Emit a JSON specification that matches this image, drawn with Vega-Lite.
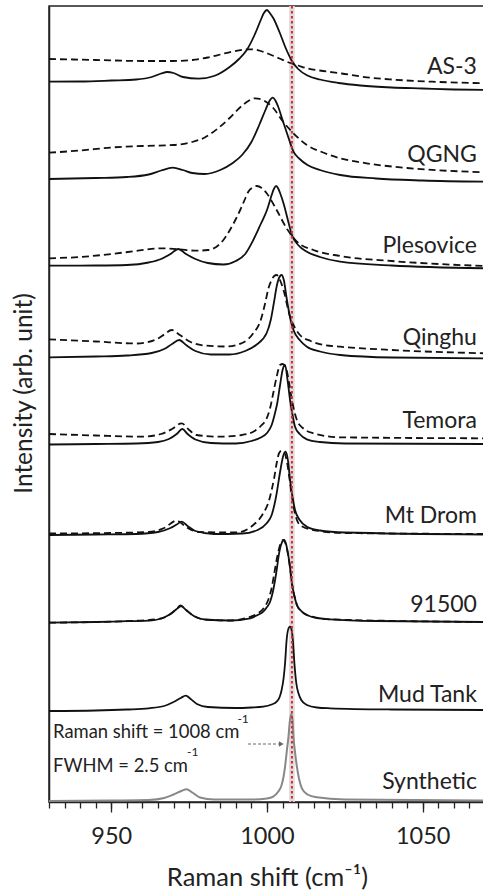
{
  "$schema": "https://vega.github.io/schema/vega-lite/v6.json",
  "width": 436,
  "height": 796,
  "autosize": {"type": "none"},
  "padding": {"left": 49, "top": 6, "right": 0, "bottom": 90},
  "config": {
    "font": "Lato",
    "view": {"stroke": "#222", "strokeWidth": 1.5},
    "axis": {"grid": false, "domainColor": "#222", "tickColor": "#222", "labelColor": "#222", "titleColor": "#222", "domainWidth": 1.5, "tickWidth": 1.3},
    "axisY": {"title": "Intensity (arb. unit)", "orient": "left", "ticks": false, "labels": false, "titleFontSize": 24.5, "titleFontWeight": "normal", "titleAngle": -90, "titleAlign": "center", "titleBaseline": "alphabetic", "titleX": -18, "titleY": 387}
  },
  "datasets": {
    "spectra": [
      {"s":"AS-3","k":"solid","x":930,"y":720.3},{"s":"AS-3","k":"solid","x":940,"y":720.5},{"s":"AS-3","k":"solid","x":950,"y":721.5},{"s":"AS-3","k":"solid","x":958,"y":722.5},{"s":"AS-3","k":"solid","x":963,"y":725},{"s":"AS-3","k":"solid","x":966,"y":728.5},{"s":"AS-3","k":"solid","x":968,"y":730},{"s":"AS-3","k":"solid","x":970,"y":729},{"s":"AS-3","k":"solid","x":973,"y":725},{"s":"AS-3","k":"solid","x":978,"y":723.3},{"s":"AS-3","k":"solid","x":983,"y":726},{"s":"AS-3","k":"solid","x":988,"y":735},{"s":"AS-3","k":"solid","x":991,"y":743},{"s":"AS-3","k":"solid","x":993.5,"y":752},{"s":"AS-3","k":"solid","x":996,"y":767},{"s":"AS-3","k":"solid","x":998,"y":782},{"s":"AS-3","k":"solid","x":999,"y":789},{"s":"AS-3","k":"solid","x":1000,"y":792},{"s":"AS-3","k":"solid","x":1001,"y":788.5},{"s":"AS-3","k":"solid","x":1002,"y":784},{"s":"AS-3","k":"solid","x":1004,"y":770},{"s":"AS-3","k":"solid","x":1006,"y":754},{"s":"AS-3","k":"solid","x":1008,"y":741},{"s":"AS-3","k":"solid","x":1010,"y":733},{"s":"AS-3","k":"solid","x":1013,"y":726.5},{"s":"AS-3","k":"solid","x":1017,"y":722.5},{"s":"AS-3","k":"solid","x":1023,"y":719},{"s":"AS-3","k":"solid","x":1030,"y":716.5},{"s":"AS-3","k":"solid","x":1040,"y":714.5},{"s":"AS-3","k":"solid","x":1050,"y":713.5},{"s":"AS-3","k":"solid","x":1060,"y":712.5},{"s":"AS-3","k":"solid","x":1070,"y":712},
      {"s":"AS-3","k":"dashed","x":930,"y":743},{"s":"AS-3","k":"dashed","x":945,"y":742},{"s":"AS-3","k":"dashed","x":960,"y":741},{"s":"AS-3","k":"dashed","x":970,"y":741},{"s":"AS-3","k":"dashed","x":976,"y":742},{"s":"AS-3","k":"dashed","x":981,"y":744.5},{"s":"AS-3","k":"dashed","x":985,"y":747.5},{"s":"AS-3","k":"dashed","x":989,"y":750.5},{"s":"AS-3","k":"dashed","x":992,"y":752.2},{"s":"AS-3","k":"dashed","x":995,"y":752.7},{"s":"AS-3","k":"dashed","x":998,"y":751},{"s":"AS-3","k":"dashed","x":1001,"y":747.5},{"s":"AS-3","k":"dashed","x":1004,"y":743.5},{"s":"AS-3","k":"dashed","x":1007,"y":739.5},{"s":"AS-3","k":"dashed","x":1010,"y":736.5},{"s":"AS-3","k":"dashed","x":1013,"y":733.5},{"s":"AS-3","k":"dashed","x":1018,"y":731},{"s":"AS-3","k":"dashed","x":1024,"y":728.5},{"s":"AS-3","k":"dashed","x":1032,"y":724.7},{"s":"AS-3","k":"dashed","x":1040,"y":722.5},{"s":"AS-3","k":"dashed","x":1053,"y":720.3},{"s":"AS-3","k":"dashed","x":1070,"y":718.7},
      {"s":"QGNG","k":"solid","x":930,"y":623},{"s":"QGNG","k":"solid","x":945,"y":624},{"s":"QGNG","k":"solid","x":955,"y":625},{"s":"QGNG","k":"solid","x":962,"y":627.5},{"s":"QGNG","k":"solid","x":966,"y":631.5},{"s":"QGNG","k":"solid","x":969.7,"y":634.3},{"s":"QGNG","k":"solid","x":973,"y":632},{"s":"QGNG","k":"solid","x":976,"y":629},{"s":"QGNG","k":"solid","x":980,"y":628},{"s":"QGNG","k":"solid","x":985,"y":632},{"s":"QGNG","k":"solid","x":989,"y":639},{"s":"QGNG","k":"solid","x":992,"y":647},{"s":"QGNG","k":"solid","x":995,"y":660},{"s":"QGNG","k":"solid","x":997.5,"y":677},{"s":"QGNG","k":"solid","x":999.5,"y":692},{"s":"QGNG","k":"solid","x":1000.8,"y":701},{"s":"QGNG","k":"solid","x":1001.8,"y":704.3},{"s":"QGNG","k":"solid","x":1002.7,"y":701.5},{"s":"QGNG","k":"solid","x":1003.5,"y":696},{"s":"QGNG","k":"solid","x":1005,"y":682},{"s":"QGNG","k":"solid","x":1006.5,"y":668},{"s":"QGNG","k":"solid","x":1008.5,"y":650.3},{"s":"QGNG","k":"solid","x":1010.5,"y":643},{"s":"QGNG","k":"solid","x":1013,"y":637},{"s":"QGNG","k":"solid","x":1017,"y":632},{"s":"QGNG","k":"solid","x":1023.5,"y":627},{"s":"QGNG","k":"solid","x":1035,"y":623.5},{"s":"QGNG","k":"solid","x":1050,"y":621.5},{"s":"QGNG","k":"solid","x":1070,"y":620.3},
      {"s":"QGNG","k":"dashed","x":930,"y":649.3},{"s":"QGNG","k":"dashed","x":940,"y":651.5},{"s":"QGNG","k":"dashed","x":950,"y":654.5},{"s":"QGNG","k":"dashed","x":960,"y":656},{"s":"QGNG","k":"dashed","x":970,"y":657},{"s":"QGNG","k":"dashed","x":976,"y":660},{"s":"QGNG","k":"dashed","x":980,"y":664.5},{"s":"QGNG","k":"dashed","x":984,"y":673},{"s":"QGNG","k":"dashed","x":988,"y":684},{"s":"QGNG","k":"dashed","x":991.5,"y":695},{"s":"QGNG","k":"dashed","x":994,"y":701},{"s":"QGNG","k":"dashed","x":996.2,"y":703.7},{"s":"QGNG","k":"dashed","x":999,"y":701.5},{"s":"QGNG","k":"dashed","x":1002,"y":694},{"s":"QGNG","k":"dashed","x":1005,"y":681},{"s":"QGNG","k":"dashed","x":1008.5,"y":668.7},{"s":"QGNG","k":"dashed","x":1012.8,"y":657},{"s":"QGNG","k":"dashed","x":1018,"y":649.5},{"s":"QGNG","k":"dashed","x":1023.5,"y":643.7},{"s":"QGNG","k":"dashed","x":1032,"y":638.7},{"s":"QGNG","k":"dashed","x":1045,"y":634},{"s":"QGNG","k":"dashed","x":1070,"y":629.7},
      {"s":"Plesovice","k":"solid","x":930,"y":536.3},{"s":"Plesovice","k":"solid","x":945,"y":536.5},{"s":"Plesovice","k":"solid","x":955,"y":537},{"s":"Plesovice","k":"solid","x":962,"y":539.5},{"s":"Plesovice","k":"solid","x":966,"y":543},{"s":"Plesovice","k":"solid","x":969,"y":548},{"s":"Plesovice","k":"solid","x":971.5,"y":553},{"s":"Plesovice","k":"solid","x":974,"y":548},{"s":"Plesovice","k":"solid","x":977,"y":543},{"s":"Plesovice","k":"solid","x":981,"y":539},{"s":"Plesovice","k":"solid","x":986,"y":537.5},{"s":"Plesovice","k":"solid","x":990,"y":541},{"s":"Plesovice","k":"solid","x":993,"y":548},{"s":"Plesovice","k":"solid","x":995.6,"y":562},{"s":"Plesovice","k":"solid","x":998,"y":578},{"s":"Plesovice","k":"solid","x":1000,"y":592},{"s":"Plesovice","k":"solid","x":1001.5,"y":607},{"s":"Plesovice","k":"solid","x":1002.2,"y":613},{"s":"Plesovice","k":"solid","x":1002.9,"y":616},{"s":"Plesovice","k":"solid","x":1003.6,"y":613.5},{"s":"Plesovice","k":"solid","x":1004.2,"y":609},{"s":"Plesovice","k":"solid","x":1005.3,"y":598.7},{"s":"Plesovice","k":"solid","x":1006.7,"y":582},{"s":"Plesovice","k":"solid","x":1008,"y":567},{"s":"Plesovice","k":"solid","x":1010,"y":557},{"s":"Plesovice","k":"solid","x":1012.8,"y":550.3},{"s":"Plesovice","k":"solid","x":1017,"y":545},{"s":"Plesovice","k":"solid","x":1023.5,"y":540.3},{"s":"Plesovice","k":"solid","x":1040,"y":536.5},{"s":"Plesovice","k":"solid","x":1070,"y":533.7},
      {"s":"Plesovice","k":"dashed","x":930,"y":543.7},{"s":"Plesovice","k":"dashed","x":940,"y":545},{"s":"Plesovice","k":"dashed","x":950,"y":548},{"s":"Plesovice","k":"dashed","x":958,"y":551},{"s":"Plesovice","k":"dashed","x":965.7,"y":553.7},{"s":"Plesovice","k":"dashed","x":971.5,"y":552.7},{"s":"Plesovice","k":"dashed","x":977.4,"y":551.3},{"s":"Plesovice","k":"dashed","x":981,"y":552},{"s":"Plesovice","k":"dashed","x":983.8,"y":555.3},{"s":"Plesovice","k":"dashed","x":986,"y":562},{"s":"Plesovice","k":"dashed","x":988.1,"y":572},{"s":"Plesovice","k":"dashed","x":990,"y":583},{"s":"Plesovice","k":"dashed","x":991.4,"y":592},{"s":"Plesovice","k":"dashed","x":992.8,"y":602},{"s":"Plesovice","k":"dashed","x":994,"y":610.3},{"s":"Plesovice","k":"dashed","x":995.4,"y":614.5},{"s":"Plesovice","k":"dashed","x":996.7,"y":616},{"s":"Plesovice","k":"dashed","x":998.3,"y":614},{"s":"Plesovice","k":"dashed","x":999.9,"y":608.7},{"s":"Plesovice","k":"dashed","x":1003.1,"y":592},{"s":"Plesovice","k":"dashed","x":1006.3,"y":573.7},{"s":"Plesovice","k":"dashed","x":1009.6,"y":560.3},{"s":"Plesovice","k":"dashed","x":1014.9,"y":552},{"s":"Plesovice","k":"dashed","x":1023.5,"y":546},{"s":"Plesovice","k":"dashed","x":1040,"y":541},{"s":"Plesovice","k":"dashed","x":1055,"y":538},{"s":"Plesovice","k":"dashed","x":1070,"y":536},
      {"s":"Qinghu","k":"solid","x":930,"y":444.7},{"s":"Qinghu","k":"solid","x":945,"y":445.5},{"s":"Qinghu","k":"solid","x":955,"y":446.5},{"s":"Qinghu","k":"solid","x":963,"y":449},{"s":"Qinghu","k":"solid","x":967,"y":453},{"s":"Qinghu","k":"solid","x":969.5,"y":458},{"s":"Qinghu","k":"solid","x":971.8,"y":462},{"s":"Qinghu","k":"solid","x":974,"y":457},{"s":"Qinghu","k":"solid","x":977,"y":451},{"s":"Qinghu","k":"solid","x":982,"y":447.5},{"s":"Qinghu","k":"solid","x":988,"y":447.5},{"s":"Qinghu","k":"solid","x":993,"y":451},{"s":"Qinghu","k":"solid","x":996.5,"y":457},{"s":"Qinghu","k":"solid","x":999.9,"y":469},{"s":"Qinghu","k":"solid","x":1001.2,"y":482},{"s":"Qinghu","k":"solid","x":1002.2,"y":499},{"s":"Qinghu","k":"solid","x":1003.2,"y":517},{"s":"Qinghu","k":"solid","x":1004,"y":525},{"s":"Qinghu","k":"solid","x":1004.7,"y":527},{"s":"Qinghu","k":"solid","x":1005.4,"y":522},{"s":"Qinghu","k":"solid","x":1006.3,"y":504},{"s":"Qinghu","k":"solid","x":1007.3,"y":486},{"s":"Qinghu","k":"solid","x":1008.5,"y":472},{"s":"Qinghu","k":"solid","x":1010.5,"y":462},{"s":"Qinghu","k":"solid","x":1012.8,"y":455.3},{"s":"Qinghu","k":"solid","x":1017,"y":450.5},{"s":"Qinghu","k":"solid","x":1023.5,"y":447},{"s":"Qinghu","k":"solid","x":1040,"y":444.5},{"s":"Qinghu","k":"solid","x":1070,"y":443.7},
      {"s":"Qinghu","k":"dashed","x":930,"y":462.7},{"s":"Qinghu","k":"dashed","x":945,"y":460.5},{"s":"Qinghu","k":"dashed","x":958,"y":458.5},{"s":"Qinghu","k":"dashed","x":964,"y":462},{"s":"Qinghu","k":"dashed","x":967,"y":467.5},{"s":"Qinghu","k":"dashed","x":969.4,"y":472},{"s":"Qinghu","k":"dashed","x":972,"y":467},{"s":"Qinghu","k":"dashed","x":975.3,"y":460.3},{"s":"Qinghu","k":"dashed","x":980,"y":456.5},{"s":"Qinghu","k":"dashed","x":987,"y":455.5},{"s":"Qinghu","k":"dashed","x":992,"y":459},{"s":"Qinghu","k":"dashed","x":995.6,"y":468.7},{"s":"Qinghu","k":"dashed","x":998,"y":482},{"s":"Qinghu","k":"dashed","x":999.4,"y":498.7},{"s":"Qinghu","k":"dashed","x":1000.5,"y":514},{"s":"Qinghu","k":"dashed","x":1001.5,"y":522},{"s":"Qinghu","k":"dashed","x":1002.3,"y":526},{"s":"Qinghu","k":"dashed","x":1003.1,"y":527},{"s":"Qinghu","k":"dashed","x":1004.3,"y":521},{"s":"Qinghu","k":"dashed","x":1005.3,"y":512},{"s":"Qinghu","k":"dashed","x":1007.4,"y":485.3},{"s":"Qinghu","k":"dashed","x":1009,"y":474},{"s":"Qinghu","k":"dashed","x":1010.6,"y":467},{"s":"Qinghu","k":"dashed","x":1014,"y":461},{"s":"Qinghu","k":"dashed","x":1018.1,"y":457},{"s":"Qinghu","k":"dashed","x":1023.5,"y":455.3},{"s":"Qinghu","k":"dashed","x":1040,"y":452},{"s":"Qinghu","k":"dashed","x":1070,"y":448.7},
      {"s":"Temora","k":"solid","x":930,"y":357.5},{"s":"Temora","k":"solid","x":945,"y":358},{"s":"Temora","k":"solid","x":958,"y":358.5},{"s":"Temora","k":"solid","x":965,"y":360},{"s":"Temora","k":"solid","x":968.5,"y":363},{"s":"Temora","k":"solid","x":971,"y":368},{"s":"Temora","k":"solid","x":972.8,"y":373},{"s":"Temora","k":"solid","x":974.5,"y":368},{"s":"Temora","k":"solid","x":977,"y":362.5},{"s":"Temora","k":"solid","x":982,"y":359},{"s":"Temora","k":"solid","x":990,"y":358.5},{"s":"Temora","k":"solid","x":995,"y":361},{"s":"Temora","k":"solid","x":998,"y":364.5},{"s":"Temora","k":"solid","x":1000,"y":369},{"s":"Temora","k":"solid","x":1001.5,"y":377},{"s":"Temora","k":"solid","x":1002.5,"y":388},{"s":"Temora","k":"solid","x":1003.3,"y":399},{"s":"Temora","k":"solid","x":1004.2,"y":417},{"s":"Temora","k":"solid","x":1005,"y":432},{"s":"Temora","k":"solid","x":1005.8,"y":437},{"s":"Temora","k":"solid","x":1006.6,"y":422},{"s":"Temora","k":"solid","x":1007.4,"y":402},{"s":"Temora","k":"solid","x":1008.2,"y":387},{"s":"Temora","k":"solid","x":1009,"y":375.3},{"s":"Temora","k":"solid","x":1010.5,"y":368},{"s":"Temora","k":"solid","x":1012.8,"y":362.7},{"s":"Temora","k":"solid","x":1017,"y":360},{"s":"Temora","k":"solid","x":1025,"y":358.5},{"s":"Temora","k":"solid","x":1070,"y":358},
      {"s":"Temora","k":"dashed","x":930,"y":368},{"s":"Temora","k":"dashed","x":945,"y":366.5},{"s":"Temora","k":"dashed","x":960,"y":365.3},{"s":"Temora","k":"dashed","x":966,"y":368},{"s":"Temora","k":"dashed","x":969.5,"y":373},{"s":"Temora","k":"dashed","x":972.6,"y":378.7},{"s":"Temora","k":"dashed","x":975,"y":372},{"s":"Temora","k":"dashed","x":977.4,"y":367},{"s":"Temora","k":"dashed","x":985,"y":365.3},{"s":"Temora","k":"dashed","x":992,"y":367},{"s":"Temora","k":"dashed","x":995.6,"y":370.3},{"s":"Temora","k":"dashed","x":998,"y":376},{"s":"Temora","k":"dashed","x":999.9,"y":383.7},{"s":"Temora","k":"dashed","x":1001,"y":394},{"s":"Temora","k":"dashed","x":1002,"y":408.7},{"s":"Temora","k":"dashed","x":1003.1,"y":425.3},{"s":"Temora","k":"dashed","x":1004.2,"y":437},{"s":"Temora","k":"dashed","x":1005,"y":438},{"s":"Temora","k":"dashed","x":1006.3,"y":432},{"s":"Temora","k":"dashed","x":1007.2,"y":417},{"s":"Temora","k":"dashed","x":1008,"y":402},{"s":"Temora","k":"dashed","x":1009.6,"y":382},{"s":"Temora","k":"dashed","x":1011.5,"y":374},{"s":"Temora","k":"dashed","x":1014.9,"y":368.7},{"s":"Temora","k":"dashed","x":1023.5,"y":364.7},{"s":"Temora","k":"dashed","x":1070,"y":363.7},
      {"s":"Mt Drom","k":"solid","x":930,"y":267},{"s":"Mt Drom","k":"solid","x":945,"y":267.5},{"s":"Mt Drom","k":"solid","x":958,"y":268},{"s":"Mt Drom","k":"solid","x":965,"y":270},{"s":"Mt Drom","k":"solid","x":969,"y":274},{"s":"Mt Drom","k":"solid","x":971,"y":277.5},{"s":"Mt Drom","k":"solid","x":972.6,"y":280.3},{"s":"Mt Drom","k":"solid","x":974.5,"y":276},{"s":"Mt Drom","k":"solid","x":977,"y":271},{"s":"Mt Drom","k":"solid","x":983,"y":268},{"s":"Mt Drom","k":"solid","x":992,"y":268.5},{"s":"Mt Drom","k":"solid","x":997,"y":272},{"s":"Mt Drom","k":"solid","x":999.9,"y":278.7},{"s":"Mt Drom","k":"solid","x":1001.5,"y":287},{"s":"Mt Drom","k":"solid","x":1002.5,"y":299},{"s":"Mt Drom","k":"solid","x":1003.1,"y":308.7},{"s":"Mt Drom","k":"solid","x":1004.2,"y":330},{"s":"Mt Drom","k":"solid","x":1005.2,"y":346},{"s":"Mt Drom","k":"solid","x":1006,"y":350.3},{"s":"Mt Drom","k":"solid","x":1006.8,"y":340},{"s":"Mt Drom","k":"solid","x":1007.4,"y":322},{"s":"Mt Drom","k":"solid","x":1008.2,"y":305},{"s":"Mt Drom","k":"solid","x":1009,"y":292},{"s":"Mt Drom","k":"solid","x":1010.5,"y":282},{"s":"Mt Drom","k":"solid","x":1012.8,"y":275.3},{"s":"Mt Drom","k":"solid","x":1017,"y":271.5},{"s":"Mt Drom","k":"solid","x":1025,"y":269.5},{"s":"Mt Drom","k":"solid","x":1070,"y":267.5},
      {"s":"Mt Drom","k":"dashed","x":930,"y":268.5},{"s":"Mt Drom","k":"dashed","x":950,"y":269},{"s":"Mt Drom","k":"dashed","x":962,"y":270},{"s":"Mt Drom","k":"dashed","x":967,"y":274},{"s":"Mt Drom","k":"dashed","x":971,"y":281.3},{"s":"Mt Drom","k":"dashed","x":974,"y":275},{"s":"Mt Drom","k":"dashed","x":978,"y":270},{"s":"Mt Drom","k":"dashed","x":990,"y":269.5},{"s":"Mt Drom","k":"dashed","x":995.6,"y":277},{"s":"Mt Drom","k":"dashed","x":998.8,"y":288.7},{"s":"Mt Drom","k":"dashed","x":1000.5,"y":300},{"s":"Mt Drom","k":"dashed","x":1001.5,"y":312},{"s":"Mt Drom","k":"dashed","x":1002.3,"y":324},{"s":"Mt Drom","k":"dashed","x":1003.1,"y":338.7},{"s":"Mt Drom","k":"dashed","x":1003.9,"y":349},{"s":"Mt Drom","k":"dashed","x":1004.7,"y":351.3},{"s":"Mt Drom","k":"dashed","x":1005.5,"y":350},{"s":"Mt Drom","k":"dashed","x":1006.3,"y":342},{"s":"Mt Drom","k":"dashed","x":1007.2,"y":324},{"s":"Mt Drom","k":"dashed","x":1008,"y":305.3},{"s":"Mt Drom","k":"dashed","x":1009.6,"y":282},{"s":"Mt Drom","k":"dashed","x":1011,"y":276},{"s":"Mt Drom","k":"dashed","x":1014.9,"y":272},{"s":"Mt Drom","k":"dashed","x":1025,"y":269},{"s":"Mt Drom","k":"dashed","x":1070,"y":268},
      {"s":"91500","k":"solid","x":930,"y":179.3},{"s":"91500","k":"solid","x":945,"y":180},{"s":"91500","k":"solid","x":955,"y":180.8},{"s":"91500","k":"solid","x":962.4,"y":181.3},{"s":"91500","k":"solid","x":966,"y":183.5},{"s":"91500","k":"solid","x":969,"y":188},{"s":"91500","k":"solid","x":971,"y":193},{"s":"91500","k":"solid","x":972.4,"y":196},{"s":"91500","k":"solid","x":974,"y":192},{"s":"91500","k":"solid","x":976.5,"y":186},{"s":"91500","k":"solid","x":980,"y":182.5},{"s":"91500","k":"solid","x":988,"y":181.5},{"s":"91500","k":"solid","x":994.6,"y":183.7},{"s":"91500","k":"solid","x":997,"y":187},{"s":"91500","k":"solid","x":998.8,"y":190.3},{"s":"91500","k":"solid","x":1000,"y":195},{"s":"91500","k":"solid","x":1001,"y":200.3},{"s":"91500","k":"solid","x":1001.8,"y":209},{"s":"91500","k":"solid","x":1002.6,"y":222},{"s":"91500","k":"solid","x":1003.2,"y":234},{"s":"91500","k":"solid","x":1003.7,"y":245.3},{"s":"91500","k":"solid","x":1004.6,"y":258},{"s":"91500","k":"solid","x":1005.5,"y":262},{"s":"91500","k":"solid","x":1006.2,"y":257},{"s":"91500","k":"solid","x":1006.9,"y":245.3},{"s":"91500","k":"solid","x":1007.5,"y":232},{"s":"91500","k":"solid","x":1008,"y":218.7},{"s":"91500","k":"solid","x":1008.8,"y":206},{"s":"91500","k":"solid","x":1009.6,"y":197},{"s":"91500","k":"solid","x":1011,"y":191},{"s":"91500","k":"solid","x":1012.8,"y":187},{"s":"91500","k":"solid","x":1016,"y":184},{"s":"91500","k":"solid","x":1020.3,"y":182.7},{"s":"91500","k":"solid","x":1035,"y":181},{"s":"91500","k":"solid","x":1070,"y":180},
      {"s":"91500","k":"dashed","x":930,"y":179.3},{"s":"91500","k":"dashed","x":955,"y":180.8},{"s":"91500","k":"dashed","x":966,"y":183.5},{"s":"91500","k":"dashed","x":969,"y":188},{"s":"91500","k":"dashed","x":971,"y":193},{"s":"91500","k":"dashed","x":972.2,"y":196.5},{"s":"91500","k":"dashed","x":974,"y":192},{"s":"91500","k":"dashed","x":976.5,"y":186},{"s":"91500","k":"dashed","x":980,"y":182.5},{"s":"91500","k":"dashed","x":988,"y":181.5},{"s":"91500","k":"dashed","x":994,"y":184.5},{"s":"91500","k":"dashed","x":997,"y":188.5},{"s":"91500","k":"dashed","x":999,"y":194},{"s":"91500","k":"dashed","x":1000.5,"y":203},{"s":"91500","k":"dashed","x":1001.5,"y":214},{"s":"91500","k":"dashed","x":1002.3,"y":228},{"s":"91500","k":"dashed","x":1003.2,"y":244},{"s":"91500","k":"dashed","x":1004.2,"y":257},{"s":"91500","k":"dashed","x":1005.2,"y":262},{"s":"91500","k":"dashed","x":1006,"y":258},{"s":"91500","k":"dashed","x":1006.9,"y":245},{"s":"91500","k":"dashed","x":1007.5,"y":232},{"s":"91500","k":"dashed","x":1008,"y":219},{"s":"91500","k":"dashed","x":1008.8,"y":206},{"s":"91500","k":"dashed","x":1009.6,"y":197},{"s":"91500","k":"dashed","x":1011,"y":191},{"s":"91500","k":"dashed","x":1012.8,"y":187},{"s":"91500","k":"dashed","x":1020,"y":182.7},{"s":"91500","k":"dashed","x":1070,"y":180},
      {"s":"Mud Tank","k":"solid","x":930,"y":91},{"s":"Mud Tank","k":"solid","x":945,"y":91.5},{"s":"Mud Tank","k":"solid","x":955,"y":92.5},{"s":"Mud Tank","k":"solid","x":962,"y":93.7},{"s":"Mud Tank","k":"solid","x":967,"y":96},{"s":"Mud Tank","k":"solid","x":970,"y":100},{"s":"Mud Tank","k":"solid","x":972.3,"y":104},{"s":"Mud Tank","k":"solid","x":973.9,"y":106.3},{"s":"Mud Tank","k":"solid","x":975.5,"y":103},{"s":"Mud Tank","k":"solid","x":977.5,"y":98},{"s":"Mud Tank","k":"solid","x":981,"y":95},{"s":"Mud Tank","k":"solid","x":990,"y":94},{"s":"Mud Tank","k":"solid","x":995,"y":94.5},{"s":"Mud Tank","k":"solid","x":998.8,"y":95.3},{"s":"Mud Tank","k":"solid","x":1001.5,"y":97.5},{"s":"Mud Tank","k":"solid","x":1003.1,"y":100.3},{"s":"Mud Tank","k":"solid","x":1004,"y":104.5},{"s":"Mud Tank","k":"solid","x":1004.7,"y":112},{"s":"Mud Tank","k":"solid","x":1005.3,"y":123},{"s":"Mud Tank","k":"solid","x":1005.8,"y":138.7},{"s":"Mud Tank","k":"solid","x":1006.3,"y":162},{"s":"Mud Tank","k":"solid","x":1006.9,"y":173.5},{"s":"Mud Tank","k":"solid","x":1007.4,"y":175.3},{"s":"Mud Tank","k":"solid","x":1007.9,"y":172},{"s":"Mud Tank","k":"solid","x":1008.3,"y":162},{"s":"Mud Tank","k":"solid","x":1008.8,"y":138.7},{"s":"Mud Tank","k":"solid","x":1009.4,"y":119},{"s":"Mud Tank","k":"solid","x":1010.1,"y":108.7},{"s":"Mud Tank","k":"solid","x":1011,"y":102},{"s":"Mud Tank","k":"solid","x":1012.8,"y":97},{"s":"Mud Tank","k":"solid","x":1016,"y":94.5},{"s":"Mud Tank","k":"solid","x":1020.3,"y":93.7},{"s":"Mud Tank","k":"solid","x":1040,"y":92.5},{"s":"Mud Tank","k":"solid","x":1070,"y":92},
      {"s":"Synthetic","k":"synthetic","x":930,"y":1},{"s":"Synthetic","k":"synthetic","x":950,"y":1.5},{"s":"Synthetic","k":"synthetic","x":962,"y":2},{"s":"Synthetic","k":"synthetic","x":967,"y":4},{"s":"Synthetic","k":"synthetic","x":970,"y":7.5},{"s":"Synthetic","k":"synthetic","x":972.5,"y":11},{"s":"Synthetic","k":"synthetic","x":974.2,"y":12.7},{"s":"Synthetic","k":"synthetic","x":976,"y":9.5},{"s":"Synthetic","k":"synthetic","x":978.5,"y":4.5},{"s":"Synthetic","k":"synthetic","x":983,"y":2.5},{"s":"Synthetic","k":"synthetic","x":995,"y":2.5},{"s":"Synthetic","k":"synthetic","x":1000,"y":3.5},{"s":"Synthetic","k":"synthetic","x":1002,"y":5.3},{"s":"Synthetic","k":"synthetic","x":1003.5,"y":10},{"s":"Synthetic","k":"synthetic","x":1004.7,"y":17},{"s":"Synthetic","k":"synthetic","x":1005.3,"y":25},{"s":"Synthetic","k":"synthetic","x":1005.8,"y":35.3},{"s":"Synthetic","k":"synthetic","x":1006.4,"y":52},{"s":"Synthetic","k":"synthetic","x":1006.9,"y":65.3},{"s":"Synthetic","k":"synthetic","x":1007.3,"y":80},{"s":"Synthetic","k":"synthetic","x":1007.8,"y":88},{"s":"Synthetic","k":"synthetic","x":1008.2,"y":82},{"s":"Synthetic","k":"synthetic","x":1008.5,"y":65.3},{"s":"Synthetic","k":"synthetic","x":1009,"y":50},{"s":"Synthetic","k":"synthetic","x":1009.6,"y":35.3},{"s":"Synthetic","k":"synthetic","x":1010.3,"y":23},{"s":"Synthetic","k":"synthetic","x":1011.2,"y":13.7},{"s":"Synthetic","k":"synthetic","x":1013,"y":7.5},{"s":"Synthetic","k":"synthetic","x":1016,"y":4.7},{"s":"Synthetic","k":"synthetic","x":1025,"y":2.5},{"s":"Synthetic","k":"synthetic","x":1070,"y":1.5}
    ],
    "labels": [
      {"name":"AS-3","x":1067.4,"y":728},
      {"name":"QGNG","x":1067.4,"y":640.3},
      {"name":"Plesovice","x":1067.4,"y":548.7},
      {"name":"Qinghu","x":1067.4,"y":457.5},
      {"name":"Temora","x":1067.4,"y":373.7},
      {"name":"Mt Drom","x":1067.4,"y":278.7},
      {"name":"91500","x":1067.4,"y":189.7},
      {"name":"Mud Tank","x":1067.4,"y":100.3},
      {"name":"Synthetic","x":1067.4,"y":12.7}
    ],
    "notes": [
      {"t":"Raman shift = 1008 cm","x":931.3,"y":64,"size":18.4},
      {"t":"-1","x":990.5,"y":78.7,"size":12},
      {"t":"FWHM = 2.5 cm","x":931.3,"y":30,"size":18.4},
      {"t":"-1","x":974.3,"y":46,"size":12}
    ]
  },
  "resolve": {"axis": {"x": "independent"}},
  "layer": [
    {
      "data": {"values": [{"a": 1007.1, "b": 1008.9}]},
      "mark": {"type": "rect", "color": "#dcdcdc"},
      "encoding": {
        "x": {"field": "a", "type": "quantitative", "scale": {"domain": [930, 1070]},
              "axis": {"orient": "bottom", "values": [930,935,940,945,950,955,960,965,970,975,980,985,990,995,1000,1005,1010,1015,1020,1025,1030,1035,1040,1045,1050,1055,1060,1065,1070], "tickSize": 6, "labels": false, "domain": false, "title": null}},
        "x2": {"field": "b"}
      }
    },
    {
      "data": {"name": "spectra"},
      "transform": [{"filter": "datum.k === 'solid'"}],
      "mark": {"type": "line", "interpolate": "monotone", "color": "#111", "strokeWidth": 1.8},
      "encoding": {
        "x": {"field": "x", "type": "quantitative", "scale": {"domain": [930, 1070]},
              "axis": {"orient": "bottom", "values": [950, 1000, 1050], "format": "d", "tickSize": 10, "labelFontSize": 23.5, "labelPadding": 31, "labelBaseline": "alphabetic", "labelFlush": false, "title": "Raman shift (cm⁻¹)", "titleFontSize": 25.5, "titleFontWeight": "normal", "titleBaseline": "alphabetic", "titleY": 83}},
        "y": {"field": "y", "type": "quantitative", "scale": {"domain": [0, 796]}, "title": "Intensity (arb. unit)"},
        "detail": {"field": "s"}
      }
    },
    {
      "data": {"name": "spectra"},
      "transform": [{"filter": "datum.k === 'dashed'"}],
      "mark": {"type": "line", "interpolate": "monotone", "color": "#111", "strokeWidth": 1.8, "strokeDash": [7, 4]},
      "encoding": {
        "x": {"field": "x", "type": "quantitative", "scale": {"domain": [930, 1070]}, "axis": null},
        "y": {"field": "y", "type": "quantitative", "scale": {"domain": [0, 796]}, "title": "Intensity (arb. unit)"},
        "detail": {"field": "s"}
      }
    },
    {
      "data": {"name": "spectra"},
      "transform": [{"filter": "datum.k === 'synthetic'"}],
      "mark": {"type": "line", "interpolate": "monotone", "color": "#888", "strokeWidth": 2},
      "encoding": {
        "x": {"field": "x", "type": "quantitative", "scale": {"domain": [930, 1070]}, "axis": null},
        "y": {"field": "y", "type": "quantitative", "scale": {"domain": [0, 796]}, "title": "Intensity (arb. unit)"},
        "detail": {"field": "s"}
      }
    },
    {
      "data": {"values": [{"x": 1008}]},
      "mark": {"type": "rule", "color": "#e3262b", "strokeWidth": 2, "strokeDash": [2.5, 2.5]},
      "encoding": {
        "x": {"field": "x", "type": "quantitative", "scale": {"domain": [930, 1070]}, "axis": null}
      }
    },
    {
      "data": {"values": [{"x1": 993.9, "x2": 1004.3, "y": 58}]},
      "mark": {"type": "rule", "color": "#666", "strokeWidth": 1, "strokeDash": [3, 2]},
      "encoding": {
        "x": {"field": "x1", "type": "quantitative", "scale": {"domain": [930, 1070]}, "axis": null},
        "x2": {"field": "x2"},
        "y": {"field": "y", "type": "quantitative", "scale": {"domain": [0, 796]}, "title": "Intensity (arb. unit)"}
      }
    },
    {
      "data": {"values": [{"x": 1004.6, "y": 58}]},
      "mark": {"type": "point", "shape": "triangle-right", "filled": true, "color": "#666", "size": 30, "opacity": 1},
      "encoding": {
        "x": {"field": "x", "type": "quantitative", "scale": {"domain": [930, 1070]}, "axis": null},
        "y": {"field": "y", "type": "quantitative", "scale": {"domain": [0, 796]}, "title": "Intensity (arb. unit)"}
      }
    },
    {
      "data": {"name": "labels"},
      "mark": {"type": "text", "align": "right", "baseline": "alphabetic", "fontSize": 23, "color": "#222"},
      "encoding": {
        "x": {"field": "x", "type": "quantitative", "scale": {"domain": [930, 1070]}, "axis": null},
        "y": {"field": "y", "type": "quantitative", "scale": {"domain": [0, 796]}, "title": "Intensity (arb. unit)"},
        "text": {"field": "name"}
      }
    },
    {
      "data": {"name": "notes"},
      "mark": {"type": "text", "align": "left", "baseline": "alphabetic", "color": "#222"},
      "encoding": {
        "x": {"field": "x", "type": "quantitative", "scale": {"domain": [930, 1070]}, "axis": null},
        "y": {"field": "y", "type": "quantitative", "scale": {"domain": [0, 796]}, "title": "Intensity (arb. unit)"},
        "text": {"field": "t"},
        "size": {"field": "size", "type": "quantitative", "scale": null}
      }
    }
  ]
}
